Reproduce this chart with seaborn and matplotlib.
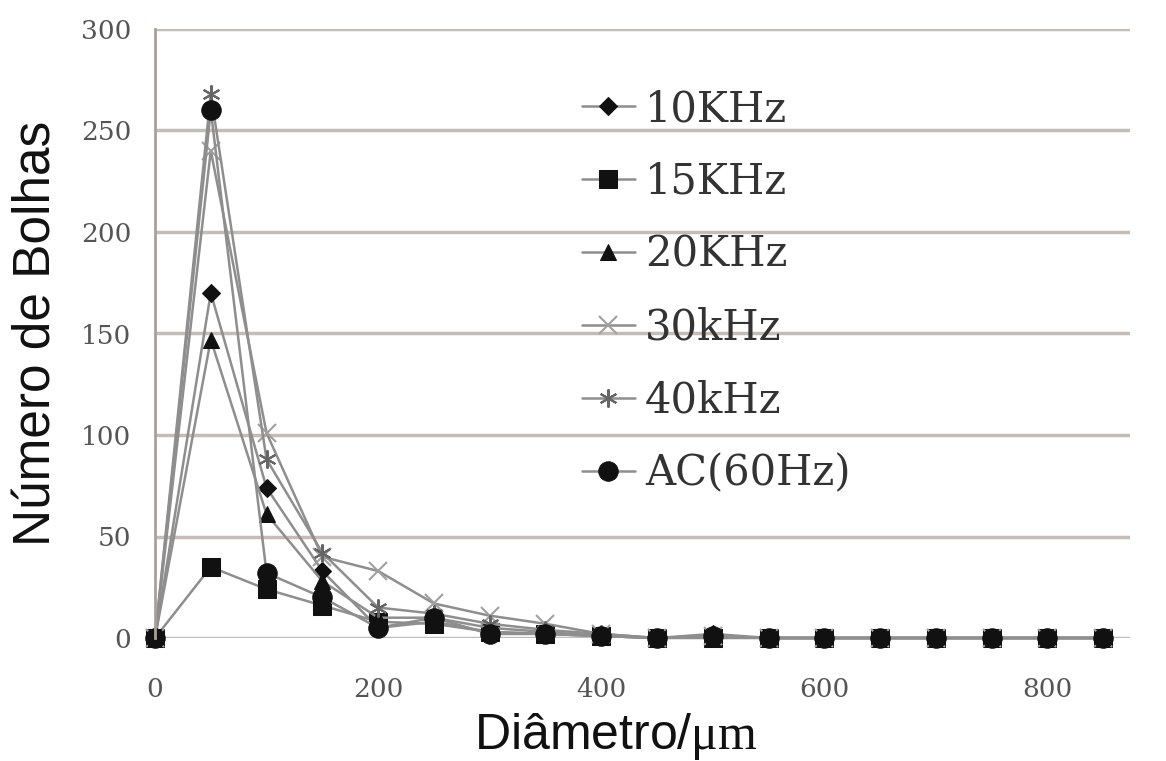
import matplotlib
matplotlib.use("Agg")
import matplotlib.pyplot as plt
import seaborn as sns
import numpy as np

diametro = [0, 50, 100, 150, 200, 250, 300, 350, 400, 450, 500, 550, 600, 650, 700, 750, 800, 850]
s10k = [0, 170, 74, 33, 5, 8, 3, 2, 1, 0, 2, 0, 0, 0, 0, 0, 0, 0]
s15k = [0, 35, 24, 16, 8, 7, 3, 2, 1, 0, 0, 0, 0, 0, 0, 0, 0, 0]
s20k = [0, 147, 61, 28, 10, 10, 5, 3, 1, 0, 1, 0, 0, 0, 0, 0, 0, 0]
s30k = [0, 240, 101, 40, 33, 17, 11, 7, 2, 0, 1, 0, 0, 0, 0, 0, 0, 0]
s40k = [0, 268, 88, 42, 15, 12, 7, 4, 2, 0, 1, 0, 0, 0, 0, 0, 0, 0]
sac = [0, 260, 32, 20, 5, 10, 2, 2, 1, 0, 1, 0, 0, 0, 0, 0, 0, 0]
labels = ["10KHz", "15KHz", "20KHz", "30kHz", "40kHz", "AC(60Hz)"]
xticks = [0, 200, 400, 600, 800]
yticks = [0, 50, 100, 150, 200, 250, 300]

sns.set_theme(style="white")
plt.rcParams["mathtext.fontset"] = "custom"
plt.rcParams["mathtext.rm"] = "Liberation Serif"

fig = plt.figure(figsize=(11.66, 7.61), dpi=100)
ax = fig.add_axes([155/1166, 1 - 638/761, (1130-155)/1166, (638-29)/761])

series = [s10k, s15k, s20k, s30k, s40k, sac]
styles = [
    dict(marker="D", markersize=9, mfc="#111111", mec="#111111"),
    dict(marker="s", markersize=13, mfc="#111111", mec="#111111"),
    dict(marker="^", markersize=12, mfc="#111111", mec="#111111"),
    dict(marker="x", markersize=13, mfc="#a0a0a0", mec="#a0a0a0", mew=1.5),
    dict(marker=(6, 2, 0), markersize=13, mfc="#666666", mec="#666666", mew=1.5),
    dict(marker="o", markersize=14, mfc="#111111", mec="#111111"),
]
for vals, lab, st in zip(series, labels, styles):
    sns.lineplot(x=diametro, y=vals, ax=ax, color="#8e8e8e", linewidth=1.8,
                 label=lab, clip_on=False, **st)

ax.set_xlim(0, 874)
ax.set_ylim(0, 300)
ax.set_xticks(xticks)
ax.set_yticks(yticks)
ax.yaxis.grid(True, color="#c4bcb6", linewidth=2.5)
ax.xaxis.grid(False)
ax.set_axisbelow(True)
for sp in ["top", "right", "bottom"]:
    ax.spines[sp].set_visible(False)
ax.spines["left"].set_color("#a8a09a")
ax.spines["left"].set_linewidth(2)
ax.tick_params(axis="x", length=0, pad=28)
ax.tick_params(axis="y", length=0, pad=17)
for t in ax.get_xticklabels() + ax.get_yticklabels():
    t.set_fontfamily("DejaVu Serif")
    t.set_fontsize(19)
    t.set_color("#555555")

ax.set_xlabel("Diâmetro/$\\mathrm{\\mu m}$", fontsize=36, fontfamily="Liberation Sans",
              color="#111111")
ax.xaxis.set_label_coords(0.473, -0.12, transform=ax.transAxes)
ax.xaxis.label.set_va("top")
ax.set_ylabel("Número de Bolhas", fontsize=37, fontfamily="Liberation Sans",
              color="#111111", labelpad=14)

leg = ax.legend(loc="upper left", bbox_to_anchor=(582/1166, 1 - 88/761),
                bbox_transform=fig.transFigure, frameon=False,
                prop={"family": "DejaVu Serif", "size": 30},
                handlelength=1.27, handletextpad=0.24, labelspacing=0.74,
                borderpad=0, borderaxespad=0)
for t in leg.get_texts():
    t.set_color("#333333")

fig.savefig("out.png", dpi=100)
